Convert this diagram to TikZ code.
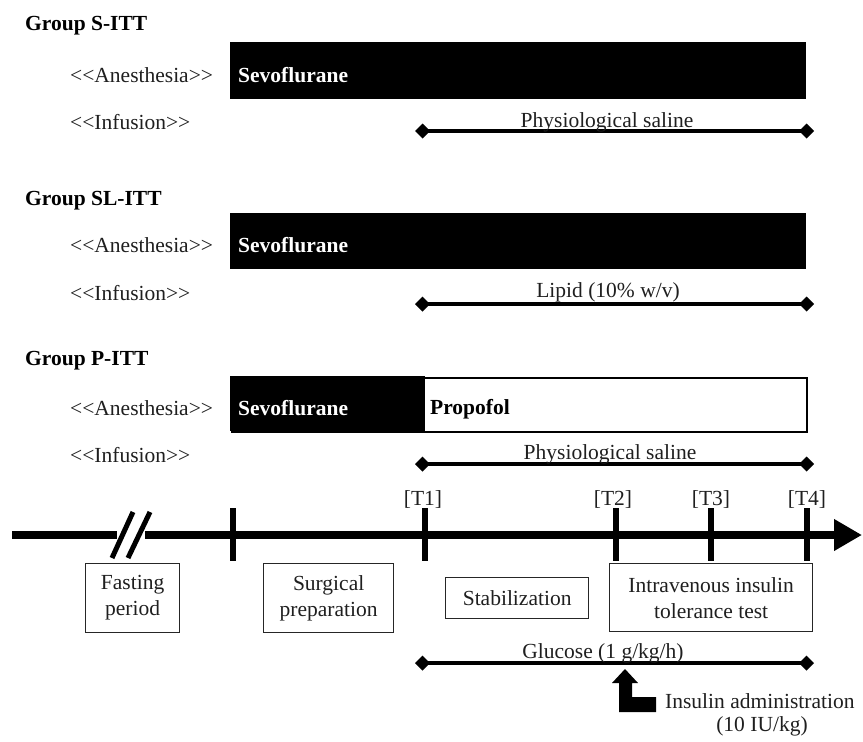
\documentclass[tikz,border=0pt]{standalone}
\usepackage{fontspec}
\setmainfont{Liberation Serif}
\usetikzlibrary{arrows.meta}
\newcommand{\lgl}{<\kern0pt<}
\newcommand{\rgr}{>\kern0pt>}
\begin{document}
\begin{tikzpicture}[x=1pt,y=-1pt,
  font=\fontsize{21.5}{24}\selectfont,
  txt/.style={anchor=base west, inner sep=0pt, text=black!88},
  ctxt/.style={anchor=base, inner sep=0pt, text=black!88},
  grp/.style={anchor=base west, inner sep=0pt, font=\fontsize{21.5}{24}\selectfont\bfseries},
  bar/.style={fill=black, draw=none, inner sep=0pt, anchor=north west, minimum height=57pt},
  wtxt/.style={anchor=base west, inner sep=0pt, text=white, font=\fontsize{21.5}{24}\selectfont\bfseries},
  inf/.style={line width=4pt, {Diamond[length=15pt,width=15pt]}-{Diamond[length=15pt,width=15pt]}},
  tickln/.style={line width=6pt},
  stage/.style={draw=black!85, line width=1.3pt, inner sep=0pt, anchor=north west, align=center,
    font=\fontsize{21.5}{26}\selectfont, text=black!88},
]
\useasboundingbox (0,0) rectangle (863,742);

% ---------- Group S-ITT ----------
\node[grp] (gS) at (25,30) {Group S-ITT};
\node[txt] (aS) at (70,82) {\lgl Anesthesia\rgr};
\node[bar, minimum width=576pt] (barS) at (230,42) {};
\node[wtxt] (sevS) at (238,82) {Sevoflurane};
\node[txt] (iS) at (70,129) {\lgl Infusion\rgr};
\coordinate (iSa) at (415,131);
\coordinate (iSb) at (814,131);
\draw[inf] (iSa) -- (iSb);
\node[ctxt] (salS) at (607,127) {Physiological saline};

% ---------- Group SL-ITT ----------
\node[grp] (gSL) at (25,205) {Group SL-ITT};
\node[txt] (aSL) at (70,252) {\lgl Anesthesia\rgr};
\node[bar, minimum width=576pt, minimum height=56pt] (barSL) at (230,213) {};
\node[wtxt] (sevSL) at (238,252) {Sevoflurane};
\node[txt] (iSL) at (70,300) {\lgl Infusion\rgr};
\coordinate (iSLa) at (415,304);
\coordinate (iSLb) at (814,304);
\draw[inf] (iSLa) -- (iSLb);
\node[ctxt] (lip) at (608,297) {Lipid (10\% w/v)};

% ---------- Group P-ITT ----------
\node[grp] (gP) at (25,365) {Group P-ITT};
\node[txt] (aP) at (70,415) {\lgl Anesthesia\rgr};
\node[draw=black, line width=2pt, fill=white, inner sep=0pt, anchor=north west,
      minimum width=575pt, minimum height=54pt] (barP) at (231,377) {};
\node[bar, minimum width=195pt, minimum height=55pt] (barPs) at (230,376) {};
\node[wtxt] (sevP) at (238,415) {Sevoflurane};
\node[grp] (prop) at (430,414) {Propofol};
\node[txt] (iP) at (70,462) {\lgl Infusion\rgr};
\coordinate (iPa) at (415,464);
\coordinate (iPb) at (814,464);
\draw[inf] (iPa) -- (iPb);
\node[ctxt] (salP) at (610,459) {Physiological saline};

% ---------- Timeline ----------
\coordinate (tl0) at (12,535);
\coordinate (brkL) at (117,535);
\coordinate (brkR) at (145,535);
\coordinate (tlend) at (862,535);
\draw[line width=8pt] (tl0) -- (brkL);
\draw[line width=8pt, -{Triangle[length=28pt,width=30pt]}] (brkR) -- (tlend);
\draw[line width=5pt] (112,558) -- (133,512);
\draw[line width=5pt] (128,558) -- (150,512);

\draw[tickln] (233,508) -- (233,561);
\draw[tickln] (425,508) -- (425,561);
\draw[tickln] (616,508) -- (616,561);
\draw[tickln] (711,508) -- (711,561);
\draw[tickln] (807,508) -- (807,561);

\node[ctxt] (T1) at (423,505) {[T1]};
\node[ctxt] (T2) at (613,505) {[T2]};
\node[ctxt] (T3) at (711,505) {[T3]};
\node[ctxt] (T4) at (807,505) {[T4]};

% ---------- Stage boxes ----------
\node[stage, minimum width=94pt, minimum height=69pt] (fast) at (85,563) {Fasting\\period};
\node[stage, minimum width=130pt, minimum height=69pt] (surg) at (263,563) {Surgical\\preparation};
\node[stage, minimum width=143pt, minimum height=41pt] (stab) at (445,577) {Stabilization};
\node[stage, minimum width=203pt, minimum height=68pt] (ivitt) at (609,563) {Intravenous insulin\\tolerance test};

% ---------- Glucose ----------
\coordinate (ga) at (415,663);
\coordinate (gb) at (814,663);
\draw[inf] (ga) -- (gb);
\node[ctxt] (glu) at (603,658) {Glucose (1 g/kg/h)};

% ---------- Insulin arrow ----------
\fill[black] (625,669) -- (638,683) -- (632,683) -- (632,697) -- (656,697) -- (656,712)
  -- (619,712) -- (619,683) -- (612,683) -- cycle;
\node[txt] (ins) at (665,708) {Insulin administration};
\node[ctxt] (dose) at (762,731) {(10 IU/kg)};
\end{tikzpicture}
\end{document}
